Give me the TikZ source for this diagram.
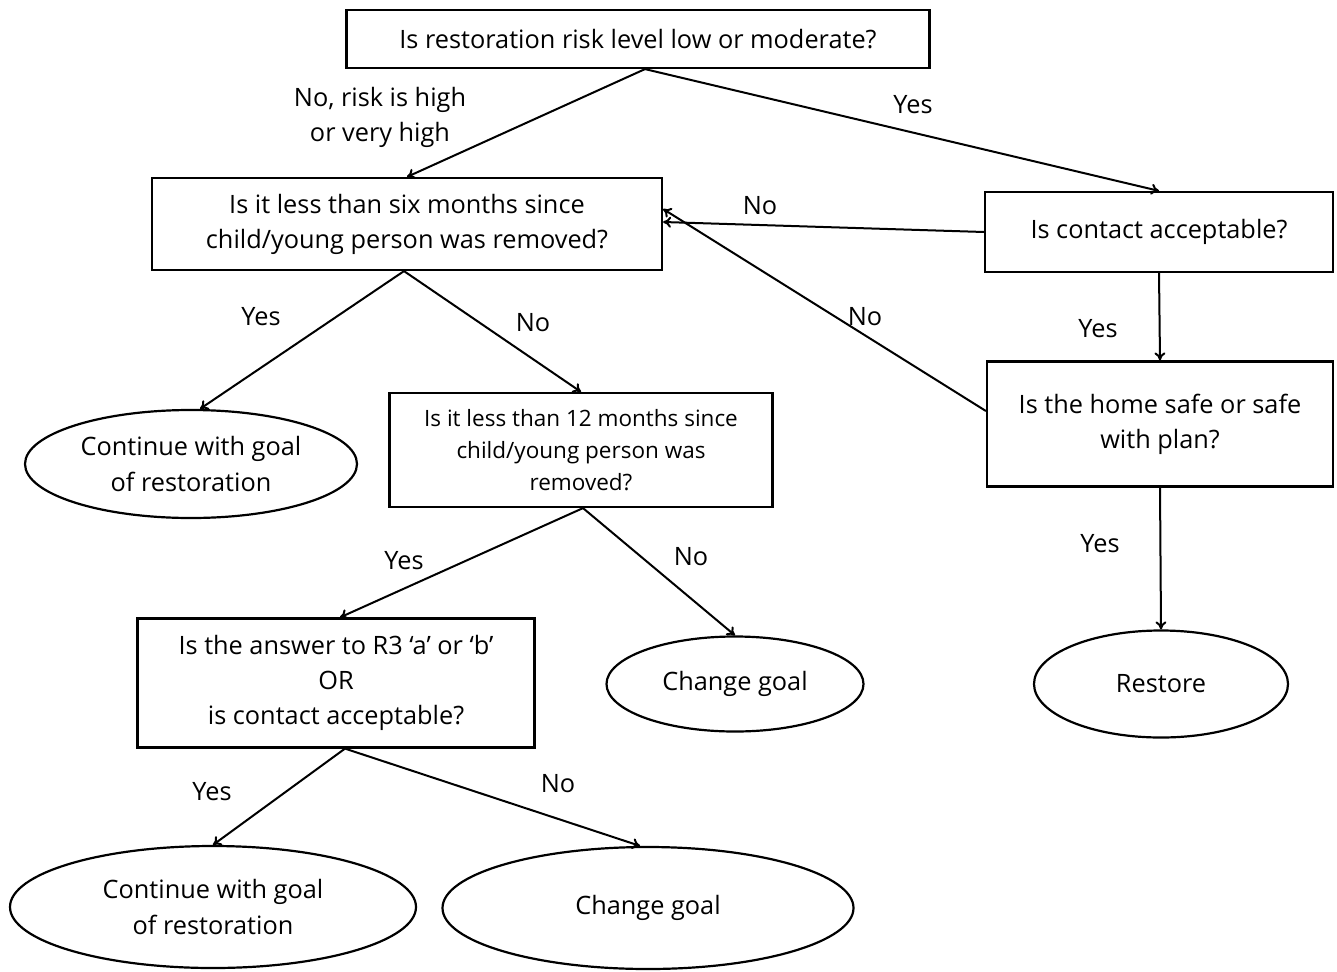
\documentclass[tikz,border=0pt]{standalone}
\usepackage{fontspec}
\setmainfont{Open Sans}
\usetikzlibrary{shapes.geometric,arrows.meta}
\begin{document}
\begin{tikzpicture}[x=1pt,y=-1pt,
  box/.style={draw,line width=2.2pt,rectangle,inner sep=0pt,align=center,font=\fontsize{25.3}{35}\selectfont},
  oval/.style={draw,line width=2.2pt,ellipse,inner sep=0pt,align=center,font=\fontsize{25.3}{36}\selectfont},
  lbl/.style={inner sep=0pt,align=center,font=\fontsize{25.3}{35}\selectfont},
  conn/.style={line width=2pt,-{To[length=8pt,width=11pt]}}]
\useasboundingbox (0,0) rectangle (1337,971);
\node[box,minimum width=583pt,minimum height=58pt] (top) at (638,39) {Is restoration risk level low or moderate?};
\node[box,minimum width=510pt,minimum height=92pt] (six) at (407,224) {Is it less than six months since\\child/young person was removed?};
\node[box,minimum width=348pt,minimum height=80pt] (contact) at (1159,232) {Is contact acceptable?};
\node[box,minimum width=346pt,minimum height=125pt] (safe) at (1160,424) {Is the home safe or safe\\with plan?};
\node[box,minimum width=383pt,minimum height=114pt,font=\fontsize{22.5}{32}\selectfont] (twelve) at (581,450) {Is it less than 12 months since\\child/young person was\\removed?};
\node[box,minimum width=397pt,minimum height=129pt] (rthree) at (336,683) {Is the answer to R3 `a' or `b'\\OR\\is contact acceptable?};
\node[oval,minimum width=332pt,minimum height=108pt] (cont1) at (191,464) {Continue with goal\\of restoration};
\node[oval,minimum width=257pt,minimum height=95pt] (chg1) at (735,684) {Change goal};
\node[oval,minimum width=254pt,minimum height=107pt] (restore) at (1161,684) {Restore};
\node[oval,minimum width=406pt,minimum height=122pt] (cont2) at (213,907) {Continue with goal\\of restoration};
\node[oval,minimum width=411pt,minimum height=122pt] (chg2) at (648,908) {Change goal};

\node[lbl] (l1) at (380,117) {No, risk is high\\or very high};
\node[lbl] (l2) at (913,105) {Yes};
\node[lbl] (l3) at (760,206) {No};
\node[lbl] (l4) at (865,317) {No};
\node[lbl] (l5) at (1098,329) {Yes};
\node[lbl] (l6) at (1100,544) {Yes};
\node[lbl] (l7) at (261,317) {Yes};
\node[lbl] (l8) at (533,323) {No};
\node[lbl] (l9) at (404,561) {Yes};
\node[lbl] (l10) at (691,557) {No};
\node[lbl] (l11) at (212,792) {Yes};
\node[lbl] (l12) at (558,784) {No};

\coordinate (tb) at ([xshift=7pt]top.south);
\draw[conn] (tb) -- (six.north);
\draw[conn] (tb) -- (contact.north);
\draw[conn] (contact.west) -- ([yshift=2pt]six.east);
\draw[conn] ([yshift=13pt]safe.west) -- ([yshift=15pt]six.east);
\draw[conn] (contact.south) -- (safe.north);
\draw[conn] (safe.south) -- (restore.north);
\coordinate (sb) at ([xshift=-3pt]six.south);
\draw[conn] (sb) -- ([xshift=9pt]cont1.north);
\draw[conn] (sb) -- (twelve.north);
\coordinate (tw) at ([xshift=2pt]twelve.south);
\draw[conn] (tw) -- ([xshift=4pt]rthree.north);
\draw[conn] (tw) -- (chg1.north);
\coordinate (rb) at ([xshift=9pt]rthree.south);
\draw[conn] (rb) -- (cont2.north);
\draw[conn] (rb) -- ([xshift=-8pt]chg2.north);
\end{tikzpicture}
\end{document}
